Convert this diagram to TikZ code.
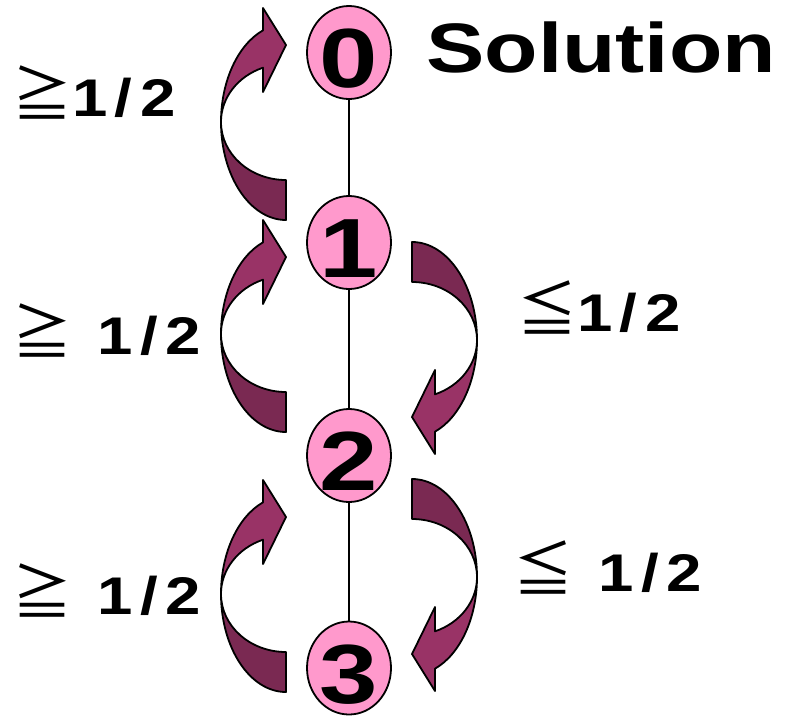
\documentclass[tikz,border=0pt]{standalone}
\usepackage{fontspec}
\usepackage{tikz}
\usetikzlibrary{shapes.geometric}
\definecolor{pinkfill}{RGB}{255,153,204}
\definecolor{plumfront}{RGB}{153,51,102}
\definecolor{plumback}{RGB}{122,41,82}
\newfontfamily\numfont[FakeStretch=1.25]{Liberation Sans Bold}
\newfontfamily\labfont[FakeStretch=1.2,LetterSpace=14]{Liberation Sans Bold}
\newfontfamily\jpfont{Noto Sans CJK JP}

\begin{document}
\begin{tikzpicture}[x=1pt, y=-1pt, line join=round]
	\useasboundingbox (0,0) rectangle (787,716);
	
	\tikzstyle{back}=[draw, line width=1.8pt, fill=plumback]
	\tikzstyle{front}=[draw, line width=1.8pt, fill=plumfront]
	
	% upward arrows, left side
	\begin{scope}[shift={(286,122)}]
		\draw[back] (-65,0) arc[start angle=180, end angle=90, x radius=65, y radius=98] -- (0,58) arc[start angle=90, end angle=180, x radius=65, y radius=58] -- cycle;
		\draw[front] (-65,0) arc[start angle=180, end angle=249.3, x radius=65, y radius=98] -- (-23,-114) -- (0,-77) -- (-23,-30) -- (-23,-54.3) arc[start angle=249.3, end angle=180, x radius=65, y radius=58] -- cycle;
	\end{scope}
	
	\begin{scope}[shift={(286,334)}]
		\draw[back] (-65,0) arc[start angle=180, end angle=90, x radius=65, y radius=98] -- (0,58) arc[start angle=90, end angle=180, x radius=65, y radius=58] -- cycle;
		\draw[front] (-65,0) arc[start angle=180, end angle=249.3, x radius=65, y radius=98] -- (-23,-114) -- (0,-77) -- (-23,-30) -- (-23,-54.3) arc[start angle=249.3, end angle=180, x radius=65, y radius=58] -- cycle;
	\end{scope}
	
	\begin{scope}[shift={(286,594)}]
		\draw[back] (-65,0) arc[start angle=180, end angle=90, x radius=65, y radius=98] -- (0,58) arc[start angle=90, end angle=180, x radius=65, y radius=58] -- cycle;
		\draw[front] (-65,0) arc[start angle=180, end angle=249.3, x radius=65, y radius=98] -- (-23,-114) -- (0,-77) -- (-23,-30) -- (-23,-54.3) arc[start angle=249.3, end angle=180, x radius=65, y radius=58] -- cycle;
	\end{scope}
	
	% downward arrows, right side
	\begin{scope}[shift={(412,340)}, rotate=180]
		\draw[back] (-65,0) arc[start angle=180, end angle=90, x radius=65, y radius=98] -- (0,58) arc[start angle=90, end angle=180, x radius=65, y radius=58] -- cycle;
		\draw[front] (-65,0) arc[start angle=180, end angle=249.3, x radius=65, y radius=98] -- (-23,-114) -- (0,-77) -- (-23,-30) -- (-23,-54.3) arc[start angle=249.3, end angle=180, x radius=65, y radius=58] -- cycle;
	\end{scope}
	
	\begin{scope}[shift={(412,577)}, rotate=180]
		\draw[back] (-65,0) arc[start angle=180, end angle=90, x radius=65, y radius=98] -- (0,58) arc[start angle=90, end angle=180, x radius=65, y radius=58] -- cycle;
		\draw[front] (-65,0) arc[start angle=180, end angle=249.3, x radius=65, y radius=98] -- (-23,-114) -- (0,-77) -- (-23,-30) -- (-23,-54.3) arc[start angle=249.3, end angle=180, x radius=65, y radius=58] -- cycle;
	\end{scope}
	
	\begin{scope}
		\tikzstyle{every node}=[ellipse, draw, line width=1.8pt, fill=pinkfill, inner sep=-15pt, minimum width=84pt, minimum height=93pt, text height=70pt, text depth=0pt, font=\fontsize{84}{84}\selectfont\numfont]
		
		\node (s0) at (349,52.5) {0};
		\node (s1) at (349,242.5) {1};
		\node (s2) at (349,455.5) {2};
		\node (s3) at (349,668) {3};
		
		\draw[line width=2pt] (s0) -- (s1);
		\draw[line width=2pt] (s1) -- (s2);
		\draw[line width=2pt] (s2) -- (s3);
	\end{scope}
	
	\begin{scope}
		\tikzstyle{every node}=[inner sep=0pt, anchor=base west, font=\fontsize{53}{53}\selectfont\labfont]
		
		\node (sol) at (426,72) {\fontsize{70}{70}\selectfont\numfont Solution};
		\node (g1) at (12,116) {{\fontsize{60}{60}\selectfont\jpfont ≧}1/2};
		\node (g2) at (12,354) {{\fontsize{60}{60}\selectfont\jpfont ≧} 1/2};
		\node (g3) at (12,614) {{\fontsize{60}{60}\selectfont\jpfont ≧} 1/2};
		\node (l1) at (517,331) {{\fontsize{60}{60}\selectfont\jpfont ≦}1/2};
		\node (l2) at (513,591) {{\fontsize{60}{60}\selectfont\jpfont ≦} 1/2};
	\end{scope}
	
\end{tikzpicture}
\end{document}
